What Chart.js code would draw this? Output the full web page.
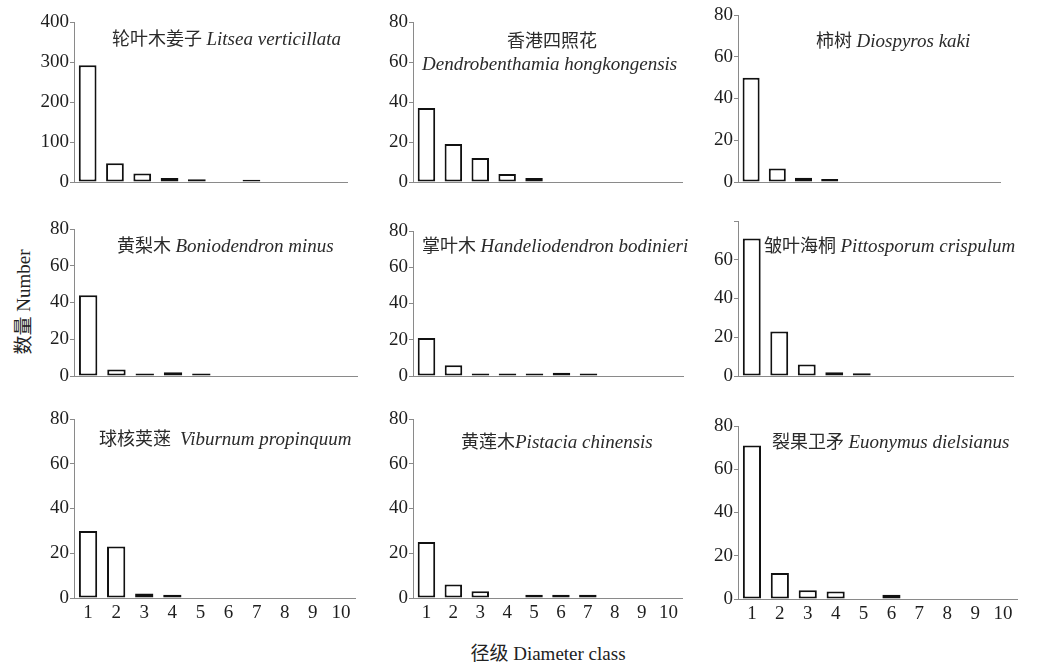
<!DOCTYPE html>
<html>
<head>
<meta charset="utf-8">
<script src="https://cdn.jsdelivr.net/npm/chart.js@4"></script>
<style>
    body { margin: 0; background: #fff; width: 1037px; height: 668px; position: relative; overflow: hidden; font-family: 'Liberation Serif', 'Noto Sans CJK SC', serif; }
    canvas.panel { position: absolute; }
    .axis-title { position: absolute; font-size: 19px; color: #222; white-space: nowrap; transform: translate(-50%, -50%); }
    #ytitle { transform: translate(-50%, -50%) rotate(-90deg); }
</style>
</head>
<body>
<div id="ytitle" class="axis-title" style="left:21px; top:302px;">数量 Number</div>
<div id="xtitle" class="axis-title" style="left:548px; top:651px;">径级 Diameter class</div>
<script>
const diameterClasses = ['1', '2', '3', '4', '5', '6', '7', '8', '9', '10'];

const litseaVerticillata = [292, 47, 21, 10, 7, 0, 5.5, 0, 0, 0];
const dendrobenthamiaHongkongensis = [37, 19, 12, 4, 2, 0, 0, 0, 0, 0];
const diospyrosKaki = [50, 6.5, 2, 1.4, 0, 0, 0, 0, 0, 0];
const boniodendronMinus = [44, 3.5, 1.4, 2, 1.4, 0, 0, 0, 0, 0];
const handeliodendronBodinieri = [21, 6, 1.4, 1.4, 1.4, 1.8, 1.4, 0, 0, 0];
const pittosporumCrispulum = [71, 23, 6, 2, 1.4, 0, 0, 0, 0, 0];
const viburnumPropinquum = [30, 23, 2, 1.4, 0, 0, 0, 0, 0, 0];
const pistaciaChinensis = [25, 6, 3, 0, 1.4, 1.4, 1.4, 0, 0, 0];
const euonymusDielsianus = [71, 12, 4, 3.5, 0, 2, 0, 0, 0, 0];

const Y_W = 60;       // fixed y-axis width
const PAD_TOP = 14;
const PAD_RIGHT = 40;
const AXIS_GRAY = '#8a8a8a';
const TEXT = '#1e1e1e';
const tickFont = { family: "'Liberation Serif', serif", size: 19 };

// x0/x1 = axis ends, yTop/yBot = pixel of max/0 on the page
const panels = [
    { values: litseaVerticillata, max: 400, step: 100, x0: 74, x1: 347, yTop: 22, yBot: 182, bottom: false,
      title: [{ cn: '轮叶木姜子 ', la: 'Litsea verticillata', x: 112, y: 40 }] },
    { values: dendrobenthamiaHongkongensis, max: 80, step: 20, x0: 413, x1: 682, yTop: 22, yBot: 182, bottom: false,
      title: [{ cn: '香港四照花', la: '', x: 507, y: 42 }, { cn: '', la: 'Dendrobenthamia hongkongensis', x: 422, y: 65 }] },
    { values: diospyrosKaki, max: 80, step: 20, x0: 738, x1: 1000, yTop: 15, yBot: 182, bottom: false,
      title: [{ cn: '柿树 ', la: 'Diospyros kaki', x: 816, y: 42 }] },
    { values: boniodendronMinus, max: 80, step: 20, x0: 74, x1: 357, yTop: 229, yBot: 376, bottom: false,
      title: [{ cn: '黄梨木 ', la: 'Boniodendron minus', x: 117, y: 247 }] },
    { values: handeliodendronBodinieri, max: 80, step: 20, x0: 413, x1: 683, yTop: 231, yBot: 376, bottom: false,
      title: [{ cn: '掌叶木 ', la: 'Handeliodendron bodinieri', x: 422, y: 247 }] },
    { values: pittosporumCrispulum, max: 80, step: 20, x0: 738, x1: 1013, yTop: 221, yBot: 376, bottom: false, hideTop: true,
      title: [{ cn: '皱叶海桐 ', la: 'Pittosporum crispulum', x: 764, y: 247 }] },
    { values: viburnumPropinquum, max: 80, step: 20, x0: 74, x1: 355, yTop: 419, yBot: 598, bottom: true,
      title: [{ cn: '球核荚蒾  ', la: 'Viburnum propinquum', x: 99, y: 440 }] },
    { values: pistaciaChinensis, max: 80, step: 20, x0: 413, x1: 682, yTop: 419, yBot: 598, bottom: true,
      title: [{ cn: '黄莲木', la: 'Pistacia chinensis', x: 461, y: 443 }] },
    { values: euonymusDielsianus, max: 80, step: 20, x0: 738, x1: 1017, yTop: 426, yBot: 599, bottom: true,
      title: [{ cn: '裂果卫矛 ', la: 'Euonymus dielsianus', x: 772, y: 443 }] }
];

const titlePlugin = {
    id: 'panelTitle',
    afterDraw(chart, args, opts) {
        const ctx = chart.ctx;
        ctx.save();
        ctx.fillStyle = '#2a2a2a';
        ctx.textBaseline = 'middle';
        ctx.textAlign = 'left';
        opts.lines.forEach(line => {
            let x = line.x - opts.left;
            const y = line.y - opts.top;
            if (line.cn) {
                ctx.font = "18px 'Liberation Serif', 'Noto Sans CJK SC'";
                ctx.fillText(line.cn, x, y);
                x += ctx.measureText(line.cn).width;
            }
            if (line.la) {
                ctx.font = "italic 19px 'Liberation Serif'";
                ctx.fillText(line.la, x, y);
            }
        });
        ctx.restore();
    }
};

panels.forEach(p => {
    const xH = p.bottom ? 34 : 14;
    const left = p.x0 - Y_W;
    const top = p.yTop - PAD_TOP;
    const width = (p.x1 - p.x0) + Y_W + PAD_RIGHT;
    const height = (p.yBot - p.yTop) + PAD_TOP + xH;

    const canvas = document.createElement('canvas');
    canvas.className = 'panel';
    canvas.width = width;
    canvas.height = height;
    canvas.style.left = left + 'px';
    canvas.style.top = top + 'px';
    canvas.style.width = width + 'px';
    canvas.style.height = height + 'px';
    document.body.appendChild(canvas);

    new Chart(canvas, {
        type: 'bar',
        data: {
            labels: diameterClasses,
            datasets: [{
                data: p.values,
                backgroundColor: '#ffffff',
                borderColor: '#111111',
                borderWidth: 2,
                borderSkipped: false,
                barPercentage: 0.65,
                categoryPercentage: 1
            }]
        },
        options: {
            responsive: false,
            animation: false,
            devicePixelRatio: 1,
            layout: { padding: { top: PAD_TOP, right: PAD_RIGHT, left: 0, bottom: 0 } },
            plugins: {
                legend: { display: false },
                tooltip: { enabled: false },
                panelTitle: { lines: p.title, left: left, top: top }
            },
            scales: {
                x: {
                    grid: { display: false },
                    border: { color: AXIS_GRAY, width: 1 },
                    ticks: { display: p.bottom, font: tickFont, color: TEXT, padding: -4, maxRotation: 0, autoSkip: false },
                    afterFit: s => { s.height = xH; }
                },
                y: {
                    min: 0,
                    max: p.max,
                    ticks: {
                        stepSize: p.step,
                        font: tickFont,
                        color: TEXT,
                        padding: 1,
                        callback: v => (p.hideTop && v === p.max) ? '' : v
                    },
                    grid: { drawOnChartArea: false, tickLength: 4, color: AXIS_GRAY },
                    border: { color: AXIS_GRAY, width: 1 },
                    afterFit: s => { s.width = Y_W; }
                }
            }
        },
        plugins: [titlePlugin]
    });
});
</script>
</body>
</html>
